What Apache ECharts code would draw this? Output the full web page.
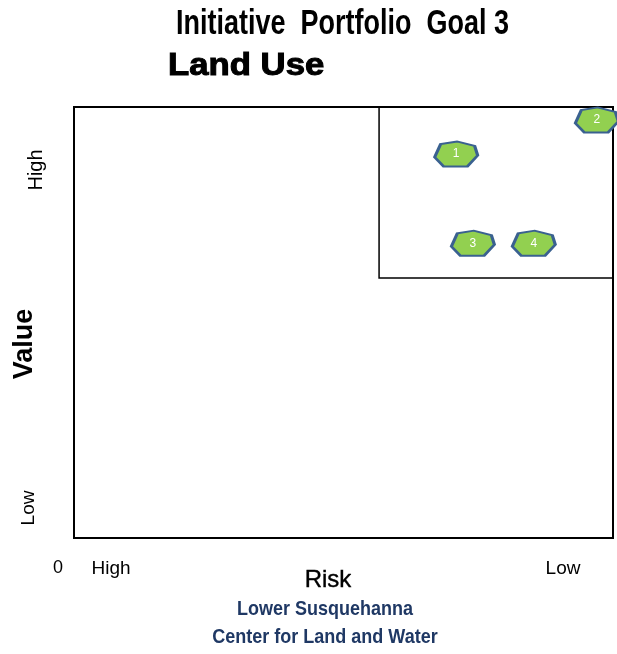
<!DOCTYPE html>
<html>
<head>
<meta charset="utf-8">
<script src="https://cdn.jsdelivr.net/npm/echarts@6/dist/echarts.min.js"></script>
<style>
  html, body { margin: 0; padding: 0; background: #fff; }
  #chart { width: 617px; height: 654px; }
</style>
</head>
<body>
<div id="chart"></div>
<script>
// Initiative ids and their positions on the risk/value grid (0-100 scale)
const initiativeIds = ['1', '2', '3', '4'];
const riskScores = [70.9, 97.0, 74.0, 85.3];   // left = high risk, right = low risk
const valueScores = [89.1, 97.0, 68.4, 68.4];  // bottom = low value, top = high value

// Priority quadrant bounds (low risk / high value corner)
const quadrantRiskFrom = 56.6;
const quadrantValueFrom = 60.3;

const points = initiativeIds.map((id, i) => ({ name: id, value: [riskScores[i], valueScores[i]] }));

const sans = '"Liberation Sans", Arial, sans-serif';

const chart = echarts.init(document.getElementById('chart'));
chart.setOption({
  animation: false,
  backgroundColor: '#fff',
  grid: {
    left: 74, top: 107, width: 539, height: 431,
    show: true, borderColor: '#000', borderWidth: 2, backgroundColor: 'transparent'
  },
  xAxis: {
    type: 'value', min: 0, max: 100,
    axisLine: { show: false }, axisTick: { show: false },
    axisLabel: { show: false }, splitLine: { show: false }
  },
  yAxis: {
    type: 'value', min: 0, max: 100,
    axisLine: { show: false }, axisTick: { show: false },
    axisLabel: { show: false }, splitLine: { show: false }
  },
  series: [{
    type: 'scatter',
    data: points,
    clip: false,
    // flattened heptagon marker
    symbol: 'path://M0,61 L14,10 L52,0 L93,17 L100,54 L76,97 L21,97 Z',
    symbolSize: [43, 25],
    itemStyle: { color: '#92D050', borderColor: '#3A6190', borderWidth: 2.5, opacity: 1 },
    label: {
      show: true, position: 'inside', formatter: '{b}',
      color: '#fff', fontSize: 12, fontFamily: sans
    },
    markArea: {
      silent: true,
      itemStyle: { color: 'transparent', borderColor: '#000', borderWidth: 1.5 },
      data: [[{ coord: [quadrantRiskFrom, quadrantValueFrom] }, { coord: [100, 100] }]]
    }
  }],
  graphic: [
    { type: 'text', x: 176, y: 42, scaleY: 1.3, style: { text: 'Initiative  Portfolio  Goal 3', font: 'bold 27px ' + sans, fill: '#000', verticalAlign: 'bottom' } },
    { type: 'text', x: 168, y: 82, scaleX: 1.12, style: { text: 'Land Use', font: 'bold 31px ' + sans, fill: '#000', stroke: '#000', lineWidth: 1, verticalAlign: 'bottom' } },
    { type: 'text', x: 36, y: 170, rotation: Math.PI / 2, style: { text: 'High', font: '20px ' + sans, fill: '#000', align: 'center', verticalAlign: 'middle' } },
    { type: 'text', x: 25, y: 344, rotation: Math.PI / 2, style: { text: 'Value', font: 'bold 27px ' + sans, fill: '#000', align: 'center', verticalAlign: 'middle' } },
    { type: 'text', x: 29, y: 508, rotation: Math.PI / 2, style: { text: 'Low', font: '19px ' + sans, fill: '#000', align: 'center', verticalAlign: 'middle' } },
    { type: 'text', x: 58, y: 568, style: { text: '0', font: '18px ' + sans, fill: '#000', align: 'center', verticalAlign: 'middle' } },
    { type: 'text', x: 111, y: 569, style: { text: 'High', font: '19px ' + sans, fill: '#000', align: 'center', verticalAlign: 'middle' } },
    { type: 'text', x: 563, y: 569, style: { text: 'Low', font: '19px ' + sans, fill: '#000', align: 'center', verticalAlign: 'middle' } },
    { type: 'text', x: 328, y: 580, style: { text: 'Risk', font: '24px ' + sans, fill: '#000', stroke: '#000', lineWidth: 0.4, align: 'center', verticalAlign: 'middle' } },
    { type: 'text', x: 325, y: 609, scaleY: 1.12, style: { text: 'Lower Susquehanna', font: 'bold 18px ' + sans, fill: '#1F3864', align: 'center', verticalAlign: 'middle' } },
    { type: 'text', x: 325, y: 637, scaleY: 1.12, style: { text: 'Center for Land and Water', font: 'bold 18px ' + sans, fill: '#1F3864', align: 'center', verticalAlign: 'middle' } }
  ]
});
</script>
</body>
</html>
